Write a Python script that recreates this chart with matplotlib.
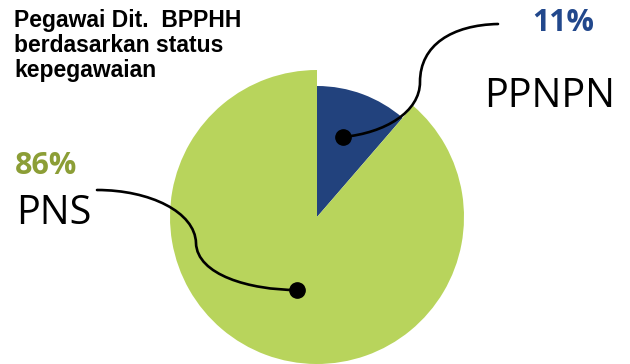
import matplotlib.pyplot as plt
from matplotlib.path import Path
from matplotlib.patches import PathPatch

# Employee status of Dit. BPPHH
categories = ['PPNPN', 'PNS']
shares = [11, 86]
share_labels = ['11%', '86%']
colors = ['#22427d', '#b8d45c']
label_colors = ['#22488c', '#8c9e36']

W, H = 630, 364
fig = plt.figure(figsize=(W / 100, H / 100), dpi=100)
ax = fig.add_axes([0, 0, 1, 1])

cx, cy = 317, H - 217
wedges, _ = ax.pie(shares, colors=colors, startangle=90, counterclock=False,
                   radius=147, center=(cx, cy))
# the small slice is drawn with a shorter radius
wedges[0].set_radius(131)

ax.set_xlim(0, W)
ax.set_ylim(0, H)
ax.set_aspect('equal')
ax.axis('off')


def leader(points, end):
    verts = [(x, H - y) for x, y in points]
    codes = [Path.MOVETO] + [Path.CURVE4] * (len(verts) - 1)
    ax.add_patch(PathPatch(Path(verts, codes), fill=False, lw=1.9,
                           edgecolor='black', capstyle='round'))
    ax.plot(end[0], H - end[1], 'o', color='black', markersize=11)


# PPNPN leader
leader([(343, 137), (385, 133), (420, 112), (420, 82),
        (420, 45), (452, 25), (498, 24)], (343, 137))
# PNS leader
leader([(97, 190), (150, 190), (195, 212), (196, 243),
        (197, 275), (250, 290), (297, 290)], (297, 290))

ax.text(14, H - 9, 'Pegawai Dit.  BPPHH\nberdasarkan status\nkepegawaian',
        ha='left', va='top', fontsize=16.5, fontweight='bold',
        family='Liberation Sans', linespacing=1.12)

ax.text(532, H - 23, share_labels[0], ha='left', va='center', fontsize=22,
        fontweight='bold', color=label_colors[0], family='Open Sans')
ax.text(484, H - 97, categories[0], ha='left', va='center', fontsize=28.5,
        color='black', family='Open Sans')
ax.text(15, H - 166, share_labels[1], ha='left', va='center', fontsize=22,
        fontweight='bold', color=label_colors[1], family='Open Sans')
ax.text(16, H - 214, categories[1], ha='left', va='center', fontsize=28.5,
        color='black', family='Open Sans')

fig.savefig('out.png', dpi=100)
